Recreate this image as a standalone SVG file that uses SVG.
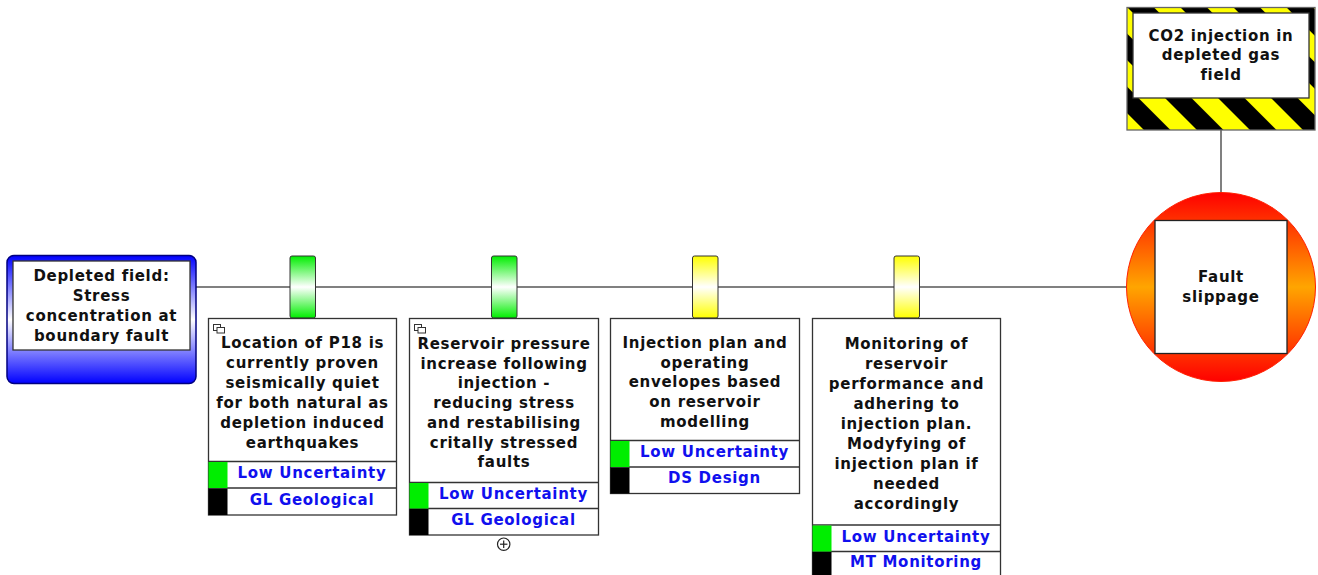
<svg xmlns="http://www.w3.org/2000/svg" width="1318" height="575" viewBox="0 0 1318 575">
<defs>
<linearGradient id="gGreen" x1="0" y1="0" x2="0" y2="1"><stop offset="0" stop-color="#00ee00"/><stop offset="0.5" stop-color="#ffffff"/><stop offset="1" stop-color="#00ee00"/></linearGradient>
<linearGradient id="gYellow" x1="0" y1="0" x2="0" y2="1"><stop offset="0" stop-color="#ffff00"/><stop offset="0.5" stop-color="#ffffff"/><stop offset="1" stop-color="#ffff00"/></linearGradient>
<linearGradient id="gBlue" x1="0" y1="0" x2="0" y2="1"><stop offset="0" stop-color="#0000ff"/><stop offset="0.5" stop-color="#ffffff"/><stop offset="1" stop-color="#0000ff"/></linearGradient>
<linearGradient id="gRed" x1="0" y1="0" x2="0" y2="1"><stop offset="0" stop-color="#ff0000"/><stop offset="0.5" stop-color="#ffa500"/><stop offset="1" stop-color="#ff0000"/></linearGradient>
<pattern id="hazard" patternUnits="userSpaceOnUse" width="37.5" height="20" patternTransform="translate(1127 7) rotate(-45)">
<rect x="0" y="0" width="18.75" height="20" fill="#000000"/>
<rect x="18.75" y="0" width="18.75" height="20" fill="#ffff00"/>
</pattern>
<style>
.t{font-family:"DejaVu Sans",Verdana,sans-serif;font-weight:bold;font-size:15px;letter-spacing:0.7px;fill:#111;text-anchor:middle}
.b{font-family:"DejaVu Sans",Verdana,sans-serif;font-weight:bold;font-size:15px;letter-spacing:0.7px;fill:#1010ee;text-anchor:middle}
.box{fill:#fff;stroke:#333;stroke-width:1.3}
.peg{stroke:#333;stroke-width:1}
.conn{stroke:#808080;stroke-width:2;fill:none}
.ic{fill:#fff;stroke:#333;stroke-width:1}
</style>
</defs>

<g id="connectors">
<line class="conn" x1="196" y1="287" x2="1127" y2="287"/>
<line class="conn" x1="1221" y1="130" x2="1221" y2="193"/>
</g>

<g id="threat">
<rect x="7" y="255.5" width="189" height="128" rx="7" fill="url(#gBlue)" stroke="#000080" stroke-width="1.5"/>
<rect x="13" y="261" width="177" height="89" class="box"/>
<text class="t" x="101.5" y="281">Depleted field:</text>
<text class="t" x="101.5" y="301">Stress</text>
<text class="t" x="101.5" y="321">concentration at</text>
<text class="t" x="101.5" y="341">boundary fault</text>
</g>

<g id="barrier1">
<rect class="peg" x="290" y="256" width="25.5" height="62" rx="2" fill="url(#gGreen)"/>
<rect class="box" x="208.5" y="318.5" width="188" height="196.5"/>
<rect class="ic" x="213.5" y="324.5" width="7" height="6"/>
<rect class="ic" x="217" y="327.5" width="7.5" height="5.5"/>
<text class="t" x="302.5" y="348">Location of P18 is</text>
<text class="t" x="302.5" y="368">currently proven</text>
<text class="t" x="302.5" y="388">seismically quiet</text>
<text class="t" x="302.5" y="408">for both natural as</text>
<text class="t" x="302.5" y="428">depletion induced</text>
<text class="t" x="302.5" y="448">earthquakes</text>
<line x1="208.5" y1="461.5" x2="396.5" y2="461.5" stroke="#333" stroke-width="1.3"/>
<line x1="208.5" y1="488" x2="396.5" y2="488" stroke="#333" stroke-width="1.3"/>
<rect x="208.5" y="462" width="19" height="26" fill="#00ee00"/>
<rect x="208.5" y="488.5" width="19" height="26.5" fill="#000"/>
<text class="b" x="312" y="478">Low Uncertainty</text>
<text class="b" x="312" y="504.5">GL Geological</text>
</g>

<g id="barrier2">
<rect class="peg" x="491.5" y="256" width="25.5" height="62" rx="2" fill="url(#gGreen)"/>
<rect class="box" x="409.5" y="318.5" width="189" height="216.5"/>
<rect class="ic" x="414.5" y="324.5" width="7" height="6"/>
<rect class="ic" x="418" y="327.5" width="7.5" height="5.5"/>
<text class="t" x="504" y="349">Reservoir pressure</text>
<text class="t" x="504" y="368.7">increase following</text>
<text class="t" x="504" y="388.4">injection -</text>
<text class="t" x="504" y="408.1">reducing stress</text>
<text class="t" x="504" y="427.8">and restabilising</text>
<text class="t" x="504" y="447.5">critally stressed</text>
<text class="t" x="504" y="467.2">faults</text>
<line x1="409.5" y1="482.5" x2="598.5" y2="482.5" stroke="#333" stroke-width="1.3"/>
<line x1="409.5" y1="508.5" x2="598.5" y2="508.5" stroke="#333" stroke-width="1.3"/>
<rect x="409.5" y="483" width="19" height="25.5" fill="#00ee00"/>
<rect x="409.5" y="509" width="19" height="26" fill="#000"/>
<text class="b" x="513.5" y="498.5">Low Uncertainty</text>
<text class="b" x="513.5" y="524.5">GL Geological</text>
<circle cx="503.7" cy="544.2" r="6.2" fill="#fff" stroke="#222" stroke-width="1.2"/>
<line x1="500" y1="544.2" x2="507.4" y2="544.2" stroke="#222" stroke-width="1.2"/>
<line x1="503.7" y1="540.5" x2="503.7" y2="547.9" stroke="#222" stroke-width="1.2"/>
</g>

<g id="barrier3">
<rect class="peg" x="692.5" y="256" width="25.5" height="62" rx="2" fill="url(#gYellow)"/>
<rect class="box" x="610.5" y="318.5" width="189" height="175"/>
<text class="t" x="705" y="348">Injection plan and</text>
<text class="t" x="705" y="367.7">operating</text>
<text class="t" x="705" y="387.4">envelopes based</text>
<text class="t" x="705" y="407.1">on reservoir</text>
<text class="t" x="705" y="426.8">modelling</text>
<line x1="610.5" y1="440.5" x2="799.5" y2="440.5" stroke="#333" stroke-width="1.3"/>
<line x1="610.5" y1="467" x2="799.5" y2="467" stroke="#333" stroke-width="1.3"/>
<rect x="610.5" y="441" width="19" height="26" fill="#00ee00"/>
<rect x="610.5" y="467.5" width="19" height="26" fill="#000"/>
<text class="b" x="714.5" y="457">Low Uncertainty</text>
<text class="b" x="714.5" y="483">DS Design</text>
</g>

<g id="barrier4">
<rect class="peg" x="894" y="256" width="25.5" height="62" rx="2" fill="url(#gYellow)"/>
<rect class="box" x="812.5" y="318.5" width="188" height="260"/>
<text class="t" x="906.5" y="349.3">Monitoring of</text>
<text class="t" x="906.5" y="369.2">reservoir</text>
<text class="t" x="906.5" y="389.1">performance and</text>
<text class="t" x="906.5" y="409">adhering to</text>
<text class="t" x="906.5" y="428.9">injection plan.</text>
<text class="t" x="906.5" y="448.8">Modyfying of</text>
<text class="t" x="906.5" y="468.7">injection plan if</text>
<text class="t" x="906.5" y="488.6">needed</text>
<text class="t" x="906.5" y="508.5">accordingly</text>
<line x1="812.5" y1="525" x2="1000.5" y2="525" stroke="#333" stroke-width="1.3"/>
<line x1="812.5" y1="551.5" x2="1000.5" y2="551.5" stroke="#333" stroke-width="1.3"/>
<rect x="812.5" y="525.5" width="19" height="26" fill="#00ee00"/>
<rect x="812.5" y="552" width="19" height="26" fill="#000"/>
<text class="b" x="916" y="541.5">Low Uncertainty</text>
<text class="b" x="916" y="567">MT Monitoring</text>
</g>

<g id="hazard-node">
<rect x="1127" y="7.5" width="188" height="122.5" fill="url(#hazard)" stroke="#666" stroke-width="1.3"/>
<rect x="1133" y="13" width="176" height="85" class="box"/>
<text class="t" x="1221" y="40.5">CO2 injection in</text>
<text class="t" x="1221" y="60">depleted gas</text>
<text class="t" x="1221" y="79.5">field</text>
</g>

<g id="top-event">
<circle cx="1221" cy="287" r="94.5" fill="url(#gRed)" stroke="#ff2000" stroke-width="1"/>
<rect x="1155" y="220.5" width="132" height="133" fill="#fff" stroke="#222" stroke-width="1.3"/>
<text class="t" x="1221" y="282">Fault</text>
<text class="t" x="1221" y="302">slippage</text>
</g>
</svg>
